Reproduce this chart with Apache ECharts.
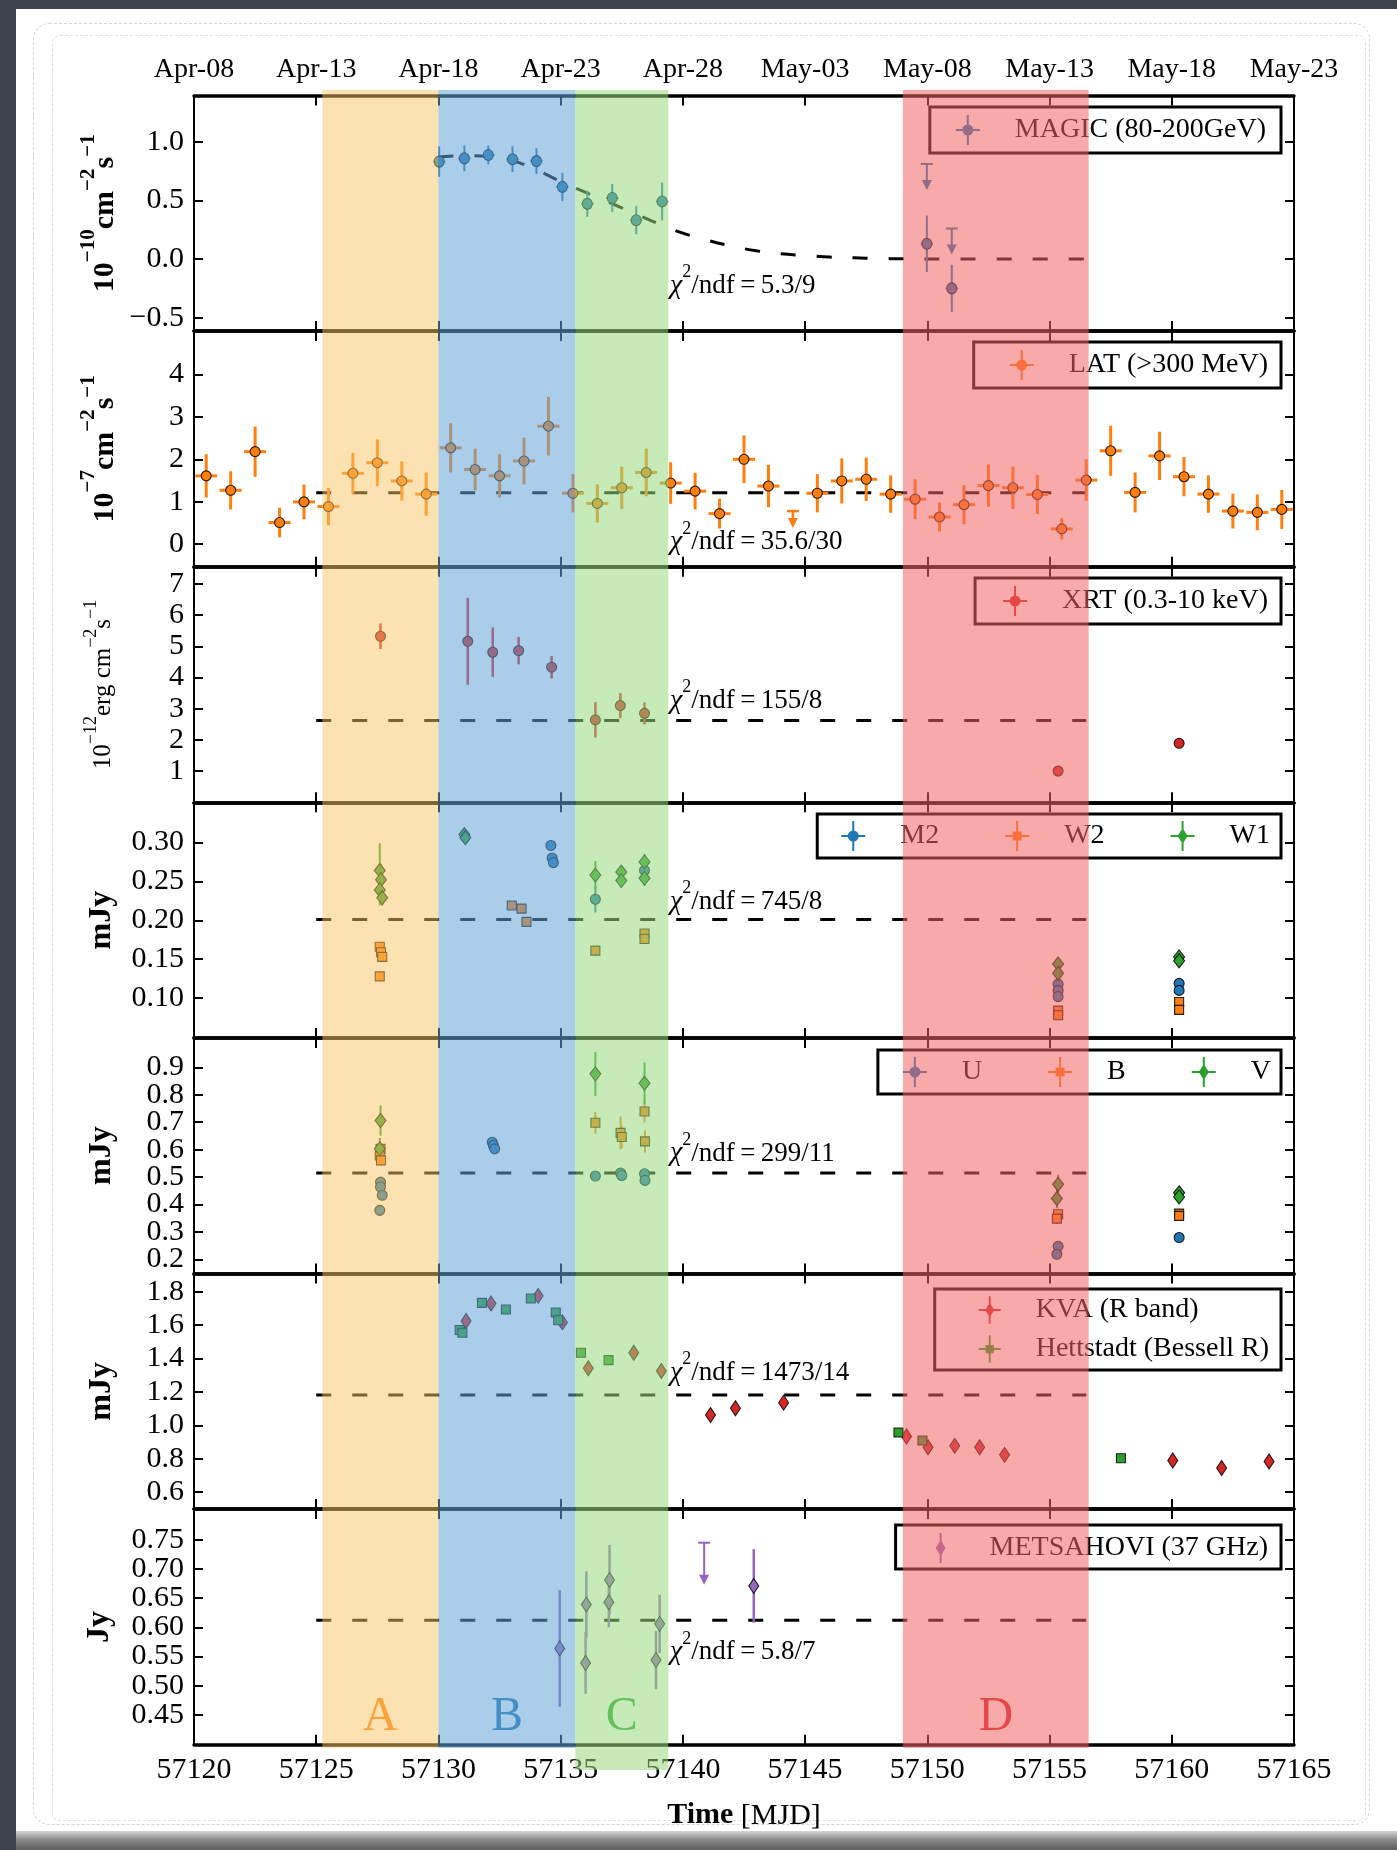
<!DOCTYPE html>
<html>
<head>
<meta charset="utf-8">
<title>Multi-wavelength light curves, MJD 57120-57165</title>
<script src="https://cdn.jsdelivr.net/npm/echarts@6/dist/echarts.min.js"></script>
<style>
  html, body { margin: 0; padding: 0; width: 1397px; height: 1850px; overflow: hidden; background: #3e424a; }
  #paper { position: absolute; left: 16px; top: 9px; width: 1381px; height: 1822px; background: #ffffff; }
  #sketch1 { position: absolute; left: 33px; top: 23px; width: 1335px; height: 1800px; border: 1px dashed #d6d6d6; border-radius: 16px; }
  #sketch2 { position: absolute; left: 52px; top: 35px; width: 1312px; height: 1784px; border: 1px dashed #e0e0e0; border-radius: 8px; }
  #edge { position: absolute; left: 16px; top: 1831px; width: 1381px; height: 19px; background: linear-gradient(#d4d4d4, #8a8a8a 45%, #5e5e5e); }
  #chart { position: absolute; left: 0; top: 0; width: 1397px; height: 1850px; }
</style>
</head>
<body>
<div id="paper"></div>
<div id="sketch1"></div>
<div id="sketch2"></div>
<div id="edge"></div>
<div id="chart"></div>
<script>
// ---------------------------------------------------------------------------
// Axis data
// ---------------------------------------------------------------------------
const MJD_MIN = 57120;
const MJD_MAX = 57165;
const topDateLabels = ['Apr-08', 'Apr-13', 'Apr-18', 'Apr-23', 'Apr-28',
                       'May-03', 'May-08', 'May-13', 'May-18', 'May-23'];

// activity periods A-D (MJD)
const bandRanges = [[57125.25, 57130.0], [57130.0, 57135.6], [57135.6, 57139.4], [57149.0, 57156.6]];
const bandLetters = ['A', 'B', 'C', 'D'];

// y ranges and ticks per panel (top to bottom)
const yRanges = [[-0.614, 1.393], [-0.53, 5.02], [0, 7.55], [0.049, 0.3515],
                 [0.149, 1.007], [0.498, 1.91], [0.399, 0.8026]];
const yTicks = [
  [-0.5, 0, 0.5, 1.0],
  [0, 1, 2, 3, 4],
  [1, 2, 3, 4, 5, 6, 7],
  [0.10, 0.15, 0.20, 0.25, 0.30],
  [0.2, 0.3, 0.4, 0.5, 0.6, 0.7, 0.8, 0.9],
  [0.6, 0.8, 1.0, 1.2, 1.4, 1.6, 1.8],
  [0.45, 0.50, 0.55, 0.60, 0.65, 0.70, 0.75]
];
const yDecimals = [1, 0, 0, 2, 1, 1, 2];

// ---------------------------------------------------------------------------
// Measurements: [MJD, value, error]
// ---------------------------------------------------------------------------
const magicPoints = [
  [57130.03, 0.83, 0.13], [57131.06, 0.857, 0.11], [57132.04, 0.886, 0.08],
  [57133.03, 0.85, 0.11], [57134.01, 0.834, 0.11], [57135.07, 0.614, 0.12],
  [57136.09, 0.47, 0.11], [57137.11, 0.52, 0.12], [57138.09, 0.33, 0.12],
  [57139.15, 0.49, 0.16], [57149.98, 0.13, 0.24], [57151.0, -0.25, 0.20]
];
const magicUpperLimits = [[57149.98, 0.81], [57151.0, 0.26]];
// fitted MAGIC light curve (sampled)
const magicFit = [
  [57130.0, 0.87], [57131, 0.88], [57132, 0.875], [57133, 0.84], [57134, 0.76],
  [57135, 0.66], [57136, 0.57], [57137, 0.48], [57138, 0.39], [57139, 0.30],
  [57140, 0.22], [57141, 0.16], [57142, 0.11], [57143, 0.07], [57144, 0.045],
  [57145, 0.03], [57146, 0.017], [57147, 0.01], [57148, 0.005], [57149, 0.002],
  [57150, 0], [57156.5, 0]
];

const latPoints = [
  [57120.5, 1.61, 0.51], [57121.5, 1.27, 0.45], [57122.5, 2.18, 0.59], [57123.5, 0.51, 0.35],
  [57124.5, 0.996, 0.41], [57125.5, 0.886, 0.44], [57126.5, 1.67, 0.48], [57127.5, 1.92, 0.55],
  [57128.5, 1.49, 0.46], [57129.5, 1.18, 0.51], [57130.5, 2.27, 0.58], [57131.5, 1.76, 0.49],
  [57132.5, 1.61, 0.51], [57133.5, 1.96, 0.55], [57134.5, 2.78, 0.69], [57135.5, 1.20, 0.45],
  [57136.5, 0.96, 0.45], [57137.5, 1.33, 0.50], [57138.5, 1.69, 0.56], [57139.5, 1.44, 0.49],
  [57140.5, 1.25, 0.43], [57141.5, 0.72, 0.35], [57142.5, 2.00, 0.56], [57143.5, 1.37, 0.50],
  [57145.5, 1.20, 0.45], [57146.5, 1.49, 0.53], [57147.5, 1.53, 0.51], [57148.5, 1.18, 0.44],
  [57149.5, 1.06, 0.47], [57150.5, 0.64, 0.34], [57151.5, 0.93, 0.46], [57152.5, 1.38, 0.50],
  [57153.5, 1.33, 0.50], [57154.5, 1.17, 0.46], [57155.5, 0.36, 0.25], [57156.5, 1.51, 0.49],
  [57157.5, 2.20, 0.59], [57158.5, 1.22, 0.47], [57159.5, 2.08, 0.57], [57160.5, 1.59, 0.46],
  [57161.5, 1.18, 0.44], [57162.5, 0.78, 0.41], [57163.5, 0.75, 0.42], [57164.5, 0.82, 0.46]
];
const latUpperLimits = [[57144.5, 0.78]];

const xrtPoints = [
  [57127.63, 5.32, 0.41], [57131.2, 5.16, 1.39], [57132.22, 4.81, 0.79], [57133.28, 4.86, 0.44],
  [57134.63, 4.33, 0.36], [57136.42, 2.64, 0.57], [57137.44, 3.10, 0.40], [57138.43, 2.85, 0.35],
  [57155.35, 1.00, 0.08], [57160.3, 1.89, 0.15]
];

const m2Points = [
  [57134.6, 0.296, 0.005], [57134.65, 0.280, 0.005], [57134.7, 0.274, 0.005],
  [57136.42, 0.227, 0.017], [57138.43, 0.264, 0.008],
  [57155.35, 0.118, 0.004], [57155.35, 0.110, 0.004], [57155.35, 0.102, 0.004],
  [57160.3, 0.119, 0.004], [57160.3, 0.110, 0.004]
];
const w2Points = [
  [57127.6, 0.166, 0.006], [57127.65, 0.159, 0.006], [57127.7, 0.153, 0.006], [57127.6, 0.128, 0.006],
  [57133.0, 0.219, 0.004], [57133.4, 0.215, 0.004], [57133.6, 0.198, 0.004],
  [57136.42, 0.161, 0.006], [57138.43, 0.183, 0.006], [57138.43, 0.176, 0.006],
  [57155.35, 0.084, 0.004], [57155.35, 0.078, 0.004], [57160.3, 0.095, 0.004], [57160.3, 0.085, 0.004]
];
const w1Points = [
  [57127.6, 0.264, 0.035], [57127.65, 0.252, 0.02], [57127.6, 0.239, 0.02], [57127.7, 0.229, 0.01],
  [57131.06, 0.310, 0.004], [57131.1, 0.306, 0.004],
  [57136.42, 0.258, 0.018], [57137.48, 0.262, 0.008], [57137.48, 0.251, 0.008],
  [57138.43, 0.275, 0.010], [57138.43, 0.254, 0.010],
  [57155.35, 0.144, 0.005], [57155.35, 0.132, 0.005], [57160.3, 0.153, 0.004], [57160.3, 0.148, 0.004]
];

const uPoints = [
  [57127.63, 0.482, 0.01], [57127.63, 0.464, 0.01], [57127.7, 0.434, 0.01], [57127.6, 0.379, 0.01],
  [57132.2, 0.627, 0.01], [57132.25, 0.615, 0.01], [57132.3, 0.603, 0.01],
  [57136.42, 0.504, 0.012], [57137.45, 0.515, 0.01], [57137.5, 0.506, 0.01],
  [57138.43, 0.512, 0.012], [57138.45, 0.488, 0.012],
  [57155.35, 0.248, 0.01], [57155.3, 0.219, 0.01], [57160.3, 0.280, 0.008]
];
const bPoints = [
  [57127.63, 0.603, 0.02], [57127.6, 0.579, 0.02], [57127.65, 0.561, 0.02],
  [57136.42, 0.698, 0.04], [57137.45, 0.661, 0.06], [57137.5, 0.646, 0.04],
  [57138.43, 0.739, 0.04], [57138.45, 0.630, 0.04],
  [57155.35, 0.365, 0.02], [57155.3, 0.349, 0.02], [57160.3, 0.367, 0.01], [57160.3, 0.359, 0.01]
];
const vPoints = [
  [57127.63, 0.706, 0.055], [57127.6, 0.603, 0.04], [57136.42, 0.876, 0.08], [57138.43, 0.842, 0.075],
  [57155.35, 0.474, 0.035], [57155.3, 0.422, 0.035], [57160.3, 0.443, 0.02], [57160.3, 0.428, 0.02]
];

const kvaPoints = [
  [57131.13, 1.625], [57132.15, 1.73], [57134.08, 1.776], [57135.07, 1.617], [57136.13, 1.342],
  [57137.99, 1.435], [57139.12, 1.326], [57141.13, 1.062], [57142.15, 1.102], [57144.12, 1.136],
  [57149.15, 0.933], [57150.03, 0.869], [57151.12, 0.877], [57152.14, 0.869], [57153.16, 0.823],
  [57160.04, 0.789], [57162.04, 0.744], [57163.98, 0.783]
];
const hettPoints = [
  [57130.87, 1.571], [57130.98, 1.555], [57131.78, 1.734], [57132.76, 1.694], [57133.78, 1.760],
  [57134.8, 1.676], [57134.9, 1.630], [57135.83, 1.435], [57136.96, 1.391],
  [57148.82, 0.957], [57149.8, 0.909], [57157.92, 0.803]
];

const metsPoints = [
  [57134.96, 0.564, 0.10], [57136.05, 0.639, 0.057], [57136.02, 0.539, 0.053],
  [57137.0, 0.681, 0.06], [57136.97, 0.643, 0.043], [57139.05, 0.606, 0.05],
  [57138.9, 0.544, 0.05], [57142.9, 0.671, 0.063]
];
const metsUpperLimits = [[57140.87, 0.745]];

// constant-flux fits: level per panel, drawn over fitSpan
const fitLevels = [null, 1.21, 2.62, 0.201, 0.515, 1.182, 0.612];
const fitSpan = [57125.0, 57156.5];
const chiTexts = ['5.3/9', '35.6/30', '155/8', '745/8', '299/11', '1473/14', '5.8/7'];
const chiAnchorY = [-0.19, 0.15, 3.4, 0.229, 0.602, 1.342, 0.565];
const chiAnchorX = 57139.47;

// ---------------------------------------------------------------------------
// Styling / layout
// ---------------------------------------------------------------------------
const FONT = "'Liberation Serif', 'DejaVu Serif', serif";
const C = { blue: '#1f77b4', orange: '#ff7f0e', green: '#2ca02c', red: '#d62728', purple: '#9467bd' };
const GRID_LEFT = 194, GRID_W = 1100, GRID_TOP = 95.5, PANEL_H = 235.6;
const BAND_TOP = 90;
const BAND_BOTTOM = [1748, 1748, 1770, 1748];
const BAND_FILLS = ['rgba(249,197,99,0.5)', 'rgba(100,164,215,0.55)',
                    'rgba(151,217,126,0.55)', 'rgba(242,100,100,0.55)'];
const LETTER_COLORS = [C.orange, C.blue, C.green, C.red];

const ICON_CIRCLE = 'path://M11,0h2v30h-2z M0,14h24v2h-24z M12,9.5a5.5,5.5 0 1,1 0,11a5.5,5.5 0 1,1 0,-11z';
const ICON_SQUARE = 'path://M11,0h2v30h-2z M0,14h24v2h-24z M7.5,10.5h9v9h-9z';
const ICON_DIAMOND = 'path://M11,0h2v30h-2z M0,14h24v2h-24z M12,7L17,15L12,23L7,15z';
const ICON_BAR_DIAMOND = 'path://M4,0h2v30h-2z M5,7L10,15L5,23L0,15z';

const yNames = [
  '{b|10}{s|−10}{b|cm}{s|−2}{b|s}{s|−1}',
  '{b|10}{s|−7}{b|cm}{s|−2}{b|s}{s|−1}',
  '{m|10}{n|−12}{m|erg cm}{n|−2}{m|s}{n|−1}',
  '{u|mJy}', '{u|mJy}', '{u|mJy}', '{u|Jy}'
];
const yNameGaps = [74, 74, 78, 76, 76, 76, 78];
const nameRich = {
  b: { fontFamily: FONT, fontSize: 30, fontWeight: 'bold', lineHeight: 42, verticalAlign: 'bottom', color: '#000' },
  s: { fontFamily: FONT, fontSize: 21, fontWeight: 'bold', lineHeight: 24, verticalAlign: 'top', color: '#000' },
  m: { fontFamily: FONT, fontSize: 25, lineHeight: 34, verticalAlign: 'bottom', color: '#000' },
  n: { fontFamily: FONT, fontSize: 18, lineHeight: 20, verticalAlign: 'top', color: '#000' },
  u: { fontFamily: FONT, fontSize: 32, fontWeight: 'bold', color: '#000' }
};

function fmtTick(v, d) {
  return v.toFixed(d).replace('-', '\u2212');
}

// ---------------------------------------------------------------------------
// Grids and axes (per panel: x bottom/top; y left, right, left-odd-labels)
// ---------------------------------------------------------------------------
const grids = [], xAxes = [], yAxes = [];
const yLabelStyle = { fontFamily: FONT, fontSize: 30, color: '#000', margin: 10,
                      showMinLabel: true, showMaxLabel: true, hideOverlap: false };
for (let i = 0; i < 7; i++) {
  grids.push({ left: GRID_LEFT, width: GRID_W, top: GRID_TOP + i * PANEL_H, height: PANEL_H,
               containLabel: false, outerBoundsMode: 'none' });
  ['bottom', 'top'].forEach(pos => {
    const showBottom = (i === 6 && pos === 'bottom');
    const showTop = (i === 0 && pos === 'top');
    xAxes.push({
      gridIndex: i, type: 'value', position: pos, min: MJD_MIN, max: MJD_MAX, interval: 5,
      axisLine: { show: true, onZero: false, lineStyle: { color: '#000', width: 3.5 } },
      axisTick: { show: true, inside: true, length: 10, lineStyle: { color: '#000', width: 2 } },
      axisLabel: {
        show: showBottom || showTop, showMinLabel: true, showMaxLabel: true,
        formatter: showTop ? (v => topDateLabels[Math.round((v - MJD_MIN) / 5)]) : (v => String(v)),
        fontFamily: FONT, fontSize: showTop ? 28 : 30, color: '#000', margin: showTop ? 12 : 10
      },
      splitLine: { show: false },
      name: showBottom ? '{t|Time} [MJD]' : '',
      nameLocation: 'middle', nameGap: 56, nameMoveOverlap: false,
      nameTextStyle: { fontFamily: FONT, fontSize: 30, color: '#000',
                       rich: { t: { fontFamily: FONT, fontSize: 30, fontWeight: 'bold', color: '#000' } } }
    });
  });
  const evenTicks = yTicks[i].filter((_, k) => k % 2 === 0);
  const oddTicks = yTicks[i].filter((_, k) => k % 2 === 1);
  // left axis: frame, all ticks, every other label, axis title
  yAxes.push({
    gridIndex: i, type: 'value', position: 'left', offset: 0, min: yRanges[i][0], max: yRanges[i][1],
    axisLine: { show: true, onZero: false, lineStyle: { color: '#000', width: 2 } },
    axisTick: { show: true, inside: true, length: 9, customValues: yTicks[i], lineStyle: { color: '#000', width: 2 } },
    axisLabel: Object.assign({ customValues: evenTicks, formatter: v => fmtTick(v, yDecimals[i]) }, yLabelStyle),
    splitLine: { show: false },
    name: yNames[i], nameLocation: 'middle', nameRotate: 90, nameGap: yNameGaps[i], nameMoveOverlap: false,
    nameTextStyle: { fontFamily: FONT, color: '#000', rich: nameRich }
  });
  // right axis: frame and ticks only
  yAxes.push({
    gridIndex: i, type: 'value', position: 'right', offset: 0, min: yRanges[i][0], max: yRanges[i][1],
    axisLine: { show: true, onZero: false, lineStyle: { color: '#000', width: 2 } },
    axisTick: { show: true, inside: true, length: 9, customValues: yTicks[i], lineStyle: { color: '#000', width: 2 } },
    axisLabel: { show: false },
    splitLine: { show: false }
  });
  // second left axis carrying the remaining tick labels
  yAxes.push({
    gridIndex: i, type: 'value', position: 'left', offset: 0, min: yRanges[i][0], max: yRanges[i][1],
    axisLine: { show: false, onZero: false },
    axisTick: { show: false },
    axisLabel: Object.assign({ show: oddTicks.length > 0, customValues: oddTicks.length ? oddTicks : evenTicks,
                               formatter: v => fmtTick(v, yDecimals[i]) }, yLabelStyle),
    splitLine: { show: false }
  });
}

// ---------------------------------------------------------------------------
// Series builders
// ---------------------------------------------------------------------------
const series = [];
const XI = gi => 2 * gi;   // bottom x axis of panel
const YI = gi => 3 * gi;   // left y axis of panel

function addErrorBars(gi, pts, color, width, xerr) {
  series.push({
    type: 'custom', xAxisIndex: XI(gi), yAxisIndex: YI(gi), z: 2, silent: true, clip: false,
    data: pts.map(p => [p[0], p[1], p[2] || 0]),
    encode: { x: 0, y: 1 },
    renderItem: (params, api) => {
      const x = api.value(0), y = api.value(1), e = api.value(2);
      const children = [];
      if (e > 0) {
        const a = api.coord([x, y + e]), b = api.coord([x, y - e]);
        children.push({ type: 'line', shape: { x1: a[0], y1: a[1], x2: b[0], y2: b[1] },
                        style: { stroke: color, lineWidth: width } });
      }
      if (xerr > 0) {
        const a = api.coord([x - xerr, y]), b = api.coord([x + xerr, y]);
        children.push({ type: 'line', shape: { x1: a[0], y1: a[1], x2: b[0], y2: b[1] },
                        style: { stroke: color, lineWidth: width } });
      }
      return { type: 'group', children };
    }
  });
}

function addMarkers(gi, name, pts, color, symbol, size) {
  series.push({
    type: 'scatter', name, xAxisIndex: XI(gi), yAxisIndex: YI(gi), z: 3, silent: true,
    symbol, symbolSize: size,
    data: pts.map(p => [p[0], p[1]]),
    itemStyle: { color, borderColor: 'rgba(0,0,0,0.85)', borderWidth: 1.1, opacity: 1 },
    emphasis: { disabled: true }
  });
}

function addUpperLimits(gi, pts, color, width, arrowLen) {
  series.push({
    type: 'custom', xAxisIndex: XI(gi), yAxisIndex: YI(gi), z: 2, silent: true, clip: false,
    data: pts,
    encode: { x: 0, y: 1 },
    renderItem: (params, api) => {
      const p = api.coord([api.value(0), api.value(1)]);
      const yEnd = p[1] + arrowLen;
      return {
        type: 'group', children: [
          { type: 'line', shape: { x1: p[0] - 6, y1: p[1], x2: p[0] + 6, y2: p[1] }, style: { stroke: color, lineWidth: width } },
          { type: 'line', shape: { x1: p[0], y1: p[1], x2: p[0], y2: yEnd - 4 }, style: { stroke: color, lineWidth: width } },
          { type: 'polygon', shape: { points: [[p[0] - 5, yEnd - 10], [p[0] + 5, yEnd - 10], [p[0], yEnd]] }, style: { fill: color } }
        ]
      };
    }
  });
}

function addFitLine(gi, pts, smooth) {
  series.push({
    type: 'line', xAxisIndex: XI(gi), yAxisIndex: YI(gi), z: 1, silent: true,
    data: pts, smooth: smooth ? 0.4 : false, symbol: 'none',
    lineStyle: { color: '#000', width: 3, type: [15, 21] }
  });
}

function addChiLabel(gi) {
  series.push({
    type: 'custom', xAxisIndex: XI(gi), yAxisIndex: YI(gi), z: 3, silent: true, clip: false,
    data: [[chiAnchorX, chiAnchorY[gi]]],
    encode: { x: 0, y: 1 },
    renderItem: (params, api) => {
      const p = api.coord([api.value(0), api.value(1)]);
      return {
        type: 'text', x: p[0], y: p[1],
        style: {
          text: '{c|\u03c7}{s|2}{t|/ndf\u2009=\u2009' + chiTexts[gi] + '}',
          align: 'left', verticalAlign: 'middle',
          rich: {
            c: { fontFamily: FONT, fontSize: 28, fontStyle: 'italic', lineHeight: 36, verticalAlign: 'bottom', fill: '#000' },
            s: { fontFamily: FONT, fontSize: 18, lineHeight: 22, verticalAlign: 'top', fill: '#000' },
            t: { fontFamily: FONT, fontSize: 27, lineHeight: 36, verticalAlign: 'bottom', fill: '#000' }
          }
        }
      };
    }
  });
}

// Panel 1: MAGIC
addFitLine(0, magicFit, true);
addErrorBars(0, magicPoints, C.blue, 2, 0.25);
addUpperLimits(0, magicUpperLimits, C.blue, 2, 26);
addMarkers(0, 'MAGIC (80-200GeV)', magicPoints, C.blue, 'circle', [10, 11]);

// Panel 2: Fermi-LAT
addFitLine(1, [[fitSpan[0], fitLevels[1]], [fitSpan[1], fitLevels[1]]]);
addErrorBars(1, latPoints, C.orange, 3, 0.45);
addUpperLimits(1, latUpperLimits, C.orange, 2.5, 17);
addMarkers(1, 'LAT (>300 MeV)', latPoints, C.orange, 'circle', 10);

// Panel 3: XRT
addFitLine(2, [[fitSpan[0], fitLevels[2]], [fitSpan[1], fitLevels[2]]]);
addErrorBars(2, xrtPoints, C.red, 2.5, 0);
addMarkers(2, 'XRT (0.3-10 keV)', xrtPoints, C.red, 'circle', 10);

// Panel 4: UVOT UV filters
addFitLine(3, [[fitSpan[0], fitLevels[3]], [fitSpan[1], fitLevels[3]]]);
addErrorBars(3, m2Points, C.blue, 2, 0);
addErrorBars(3, w2Points, C.orange, 2, 0);
addErrorBars(3, w1Points, C.green, 2, 0);
addMarkers(3, 'M2', m2Points, C.blue, 'circle', 10);
addMarkers(3, 'W2', w2Points, C.orange, 'rect', 9);
addMarkers(3, 'W1', w1Points, C.green, 'diamond', [11, 14]);

// Panel 5: UVOT optical filters
addFitLine(4, [[fitSpan[0], fitLevels[4]], [fitSpan[1], fitLevels[4]]]);
addErrorBars(4, uPoints, C.blue, 2, 0);
addErrorBars(4, bPoints, C.orange, 2, 0);
addErrorBars(4, vPoints, C.green, 2, 0);
addMarkers(4, 'U', uPoints, C.blue, 'circle', 10);
addMarkers(4, 'B', bPoints, C.orange, 'rect', 9);
addMarkers(4, 'V', vPoints, C.green, 'diamond', [11, 14]);

// Panel 6: R band
addFitLine(5, [[fitSpan[0], fitLevels[5]], [fitSpan[1], fitLevels[5]]]);
addMarkers(5, 'KVA (R band)', kvaPoints, C.red, 'diamond', [10, 15]);
addMarkers(5, 'Hettstadt (Bessell R)', hettPoints, C.green, 'rect', 9);

// Panel 7: Metsahovi 37 GHz
addFitLine(6, [[fitSpan[0], fitLevels[6]], [fitSpan[1], fitLevels[6]]]);
addErrorBars(6, metsPoints, C.purple, 2.5, 0);
addUpperLimits(6, metsUpperLimits, C.purple, 2, 42);
addMarkers(6, 'METSAHOVI (37 GHz)', metsPoints, C.purple, 'diamond', [10, 15]);

for (let i = 0; i < 7; i++) addChiLabel(i);

// period letters (below the translucent period bands)
series.push({
  type: 'custom', xAxisIndex: XI(6), yAxisIndex: YI(6), z: 5, silent: true, clip: false,
  data: bandRanges.map((r, i) => [r[0], r[1], i]),
  encode: { x: [0, 1] },
  renderItem: (params, api) => {
    const i = api.value(2);
    const p = api.coord([(api.value(0) + api.value(1)) / 2, 0.446]);
    return {
      type: 'text', x: p[0], y: p[1],
      style: { text: bandLetters[i], fill: LETTER_COLORS[i], fontFamily: FONT, fontSize: 48,
               align: 'center', verticalAlign: 'middle' }
    };
  }
});

// translucent period bands covering all panels
series.push({
  type: 'custom', xAxisIndex: XI(6), yAxisIndex: YI(6), z: 10, silent: true, clip: false,
  data: bandRanges.map((r, i) => [r[0], r[1], i]),
  encode: { x: [0, 1] },
  renderItem: (params, api) => {
    const i = api.value(2);
    const x0 = api.coord([api.value(0), yRanges[6][0]])[0];
    const x1 = api.coord([api.value(1), yRanges[6][0]])[0];
    return {
      type: 'rect', shape: { x: x0, y: BAND_TOP, width: x1 - x0, height: BAND_BOTTOM[i] - BAND_TOP },
      style: { fill: BAND_FILLS[i] }
    };
  }
});

// ---------------------------------------------------------------------------
// Legends
// ---------------------------------------------------------------------------
function legendBox(names, icons, top, extra) {
  return Object.assign({
    show: true, selectedMode: false, right: 116, top, orient: 'horizontal',
    padding: [8, 13, 8, 24], itemWidth: 24, itemHeight: 30, itemGap: 66,
    borderColor: '#000', borderWidth: 3, backgroundColor: '#ffffff', borderRadius: 0,
    data: names.map((n, i) => ({ name: n, icon: icons[i] })),
    textStyle: { fontFamily: FONT, fontSize: 28, color: '#000', padding: [0, 0, 0, 30] },
    itemStyle: { borderWidth: 0 },
    z: 4
  }, extra || {});
}

const legends = [
  legendBox(['MAGIC (80-200GeV)'], [ICON_CIRCLE], 107, { padding: [8, 15, 8, 26] }),
  legendBox(['LAT (>300 MeV)'], [ICON_CIRCLE], 342, { padding: [8, 13, 8, 36] }),
  legendBox(['XRT (0.3-10 keV)'], [ICON_CIRCLE], 578, { padding: [8, 13, 8, 28] }),
  legendBox(['M2', 'W2', 'W1'], [ICON_CIRCLE, ICON_SQUARE, ICON_DIAMOND], 814, { padding: [7, 11, 7, 24] }),
  legendBox(['U', 'B', 'V'], [ICON_CIRCLE, ICON_SQUARE, ICON_DIAMOND], 1050, { padding: [7, 10, 7, 25] }),
  legendBox(['KVA (R band)', 'Hettstadt (Bessell R)'], [ICON_DIAMOND, ICON_SQUARE], 1289,
            { orient: 'vertical', itemGap: 11, itemHeight: 28, itemWidth: 22, padding: [7, 12, 7, 44] }),
  legendBox(['METSAHOVI (37 GHz)'], [ICON_BAR_DIAMOND], 1525,
            { itemWidth: 10, padding: [8, 13, 6, 40], textStyle: { fontFamily: FONT, fontSize: 28, color: '#000', padding: [0, 0, 0, 39] } })
];

const chart = echarts.init(document.getElementById('chart'), null, { renderer: 'canvas' });
chart.setOption({
  backgroundColor: 'transparent',
  animation: false,
  grid: grids,
  xAxis: xAxes,
  yAxis: yAxes,
  legend: legends,
  series
});
</script>
</body>
</html>
